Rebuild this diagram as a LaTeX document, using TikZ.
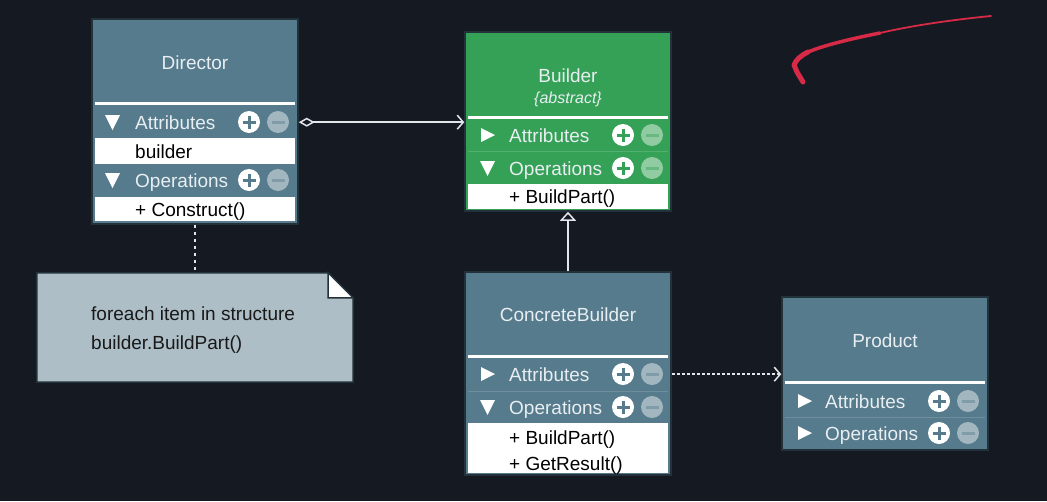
\documentclass[tikz,border=0pt]{standalone}
\usepackage{fontspec}
\setmainfont{Liberation Sans}
\usetikzlibrary{arrows.meta}

\definecolor{bgdark}{HTML}{151922}
\definecolor{steel}{HTML}{567B8C}
\definecolor{leaf}{HTML}{35A157}
\definecolor{edge}{HTML}{23313B}
\definecolor{notefill}{HTML}{ADBEC6}
\definecolor{lighttext}{HTML}{E8EEF1}
\definecolor{wire}{HTML}{E2E6EA}
\definecolor{ink}{HTML}{D62A46}

% plus / minus buttons of a compartment header: x of the plus, row centre, box colour
\newcommand\pmicons[3]{%
  \fill[white] (#1,#2) circle (11pt);
  \draw[#3, line width=3pt] (#1-6.5,#2) -- (#1+6.5,#2) (#1,#2-6.5) -- (#1,#2+6.5);
  \fill[white, opacity=0.45] (#1+29,#2) circle (11pt);
  \draw[#3!75!white, line width=3pt] (#1+22.5,#2) -- (#1+35.5,#2);}
% expanded / collapsed markers
\newcommand\tridown[2]{\fill[white] (#1,#2-7) -- (#1+15,#2-7) -- (#1+7.5,#2+8) -- cycle;}
\newcommand\triright[2]{\fill[white] (#1,#2-7) -- (#1,#2+7) -- (#1+14,#2) -- cycle;}

\tikzset{
  classbox/.style={draw=edge, line width=1.5pt, minimum width=206pt, inner sep=0pt},
  titletext/.style={text=lighttext, font=\fontsize{19pt}{22pt}\selectfont, anchor=base, inner sep=1pt},
  rowtext/.style={text=lighttext, font=\fontsize{19pt}{22pt}\selectfont, anchor=base west, inner sep=1pt},
  itemtext/.style={text=black, font=\fontsize{19pt}{22pt}\selectfont, anchor=base west, inner sep=1pt},
  sepline/.style={white, line width=3pt},
  rowline/.style={white, opacity=0.15, line width=1pt},
  whiterow/.style={fill=white},
  wireline/.style={draw=wire, line width=1.5pt},
}

\begin{document}
\begin{tikzpicture}[x=1pt, y=-1pt]
\fill[bgdark] (0,0) rectangle (1047,501);
\useasboundingbox (0,0) rectangle (1047,501);

% ---------------- Director ----------------
\node[classbox, fill=steel, minimum height=205pt] (director) at (195,121.5) {};
\node[titletext] (dirTitle) at (195,69) {Director};
\draw[sepline] (95,103) -- (295,103);
\tridown{105}{122}
\node[rowtext] (dirAttr) at (134,129) {Attributes};
\pmicons{249}{122}{steel}
\fill[whiterow] (95,138) rectangle (295,164);
\node[itemtext] (dirBuilder) at (134,158) {builder};
\tridown{105}{180}
\node[rowtext] (dirOps) at (134,187) {Operations};
\pmicons{249}{180}{steel}
\fill[whiterow] (95,197) rectangle (295,221);
\node[itemtext] (dirConstruct) at (134,216) {+ Construct()};

% ---------------- Builder ----------------
\node[classbox, fill=leaf, minimum height=179pt] (builder) at (568,121.5) {};
\node[titletext] (bTitle) at (568,82.5) {Builder};
\node[titletext, font=\fontsize{16pt}{18pt}\selectfont\itshape] (bAbstract) at (568,103.5) {\{abstract\}};
\draw[sepline] (468,117) -- (668,117);
\triright{481}{135}
\node[rowtext] (bAttr) at (508,142) {Attributes};
\pmicons{623}{135}{leaf}
\draw[rowline] (468,151) -- (668,151);
\tridown{480}{168}
\node[rowtext] (bOps) at (508,175) {Operations};
\pmicons{623}{168}{leaf}
\fill[whiterow] (468,184) rectangle (668,209);
\node[itemtext] (bBuildPart) at (508,203) {+ BuildPart()};

% ---------------- ConcreteBuilder ----------------
\node[classbox, fill=steel, minimum height=203pt] (cb) at (568,373.5) {};
\node[titletext] (cbTitle) at (568,321) {ConcreteBuilder};
\draw[sepline] (468,356) -- (668,356);
\triright{481}{374}
\node[rowtext] (cbAttr) at (508,381) {Attributes};
\pmicons{623}{374}{steel}
\draw[rowline] (468,391) -- (668,391);
\tridown{480}{407}
\node[rowtext] (cbOps) at (508,414) {Operations};
\pmicons{623}{407}{steel}
\fill[whiterow] (468,423) rectangle (668,473);
\node[itemtext] (cbBuildPart) at (508,444) {+ BuildPart()};
\node[itemtext] (cbGetResult) at (508,470) {+ GetResult()};

% ---------------- Product ----------------
\node[classbox, fill=steel, minimum height=153pt] (product) at (885,373.5) {};
\node[titletext] (pTitle) at (885,347) {Product};
\draw[sepline] (785,382) -- (985,382);
\triright{798}{401}
\node[rowtext] (pAttr) at (824,408) {Attributes};
\pmicons{939}{401}{steel}
\draw[rowline] (785,417) -- (985,417);
\triright{798}{433}
\node[rowtext] (pOps) at (824,440) {Operations};
\pmicons{939}{433}{steel}

% ---------------- Note ----------------
\node[minimum width=316pt, minimum height=109pt, inner sep=0pt] (note) at (195,327.5) {};
\filldraw[fill=notefill, draw=edge, line width=1.5pt]
  (note.north west) -- ([xshift=-25pt]note.north east) -- ([yshift=-25pt]note.north east)
  -- (note.south east) -- (note.south west) -- cycle;
\filldraw[fill=white, draw=edge, line width=1.5pt]
  ([xshift=-25pt]note.north east) -- ([xshift=-25pt,yshift=-25pt]note.north east)
  -- ([yshift=-25pt]note.north east) -- cycle;
\node[itemtext, text=black!90] (noteLine1) at (90,320) {foreach item in structure};
\node[itemtext, text=black!90] (noteLine2) at (90,349) {builder.BuildPart()};

% ---------------- Connectors ----------------
\draw[wireline, {Diamond[open, fill=bgdark, length=16pt, width=9pt]}-{Straight Barb[length=6pt, width=14pt]}]
  (director.east |- dirAttr) -- (builder.west |- dirAttr);
\draw[wireline, -{Triangle[open, fill=bgdark, length=9pt, width=16pt]}]
  (cb.north) -- (builder.south);
\draw[wireline, dash pattern=on 3pt off 2pt, -{Straight Barb[length=6pt, width=14pt]}]
  (cb.east |- cbAttr) -- (product.west |- cbAttr);
\draw[wire, line width=2pt, dash pattern=on 3pt off 4pt]
  (director.south) -- (note.north);

% ---------------- Red pen stroke ----------------
\draw[ink, line width=1.8pt, line cap=round] (991,16) .. controls (950,20) and (910,26) .. (880,33);
\draw[ink, line width=3.5pt, line cap=round] (880,33) .. controls (850,39) and (825,45) .. (808,52);
\draw[ink, line width=5pt, line cap=round, line join=round]
  (808,52) .. controls (800,56) and (796,60) .. (794,65) -- (797,72) -- (803,82);
\end{tikzpicture}
\end{document}
